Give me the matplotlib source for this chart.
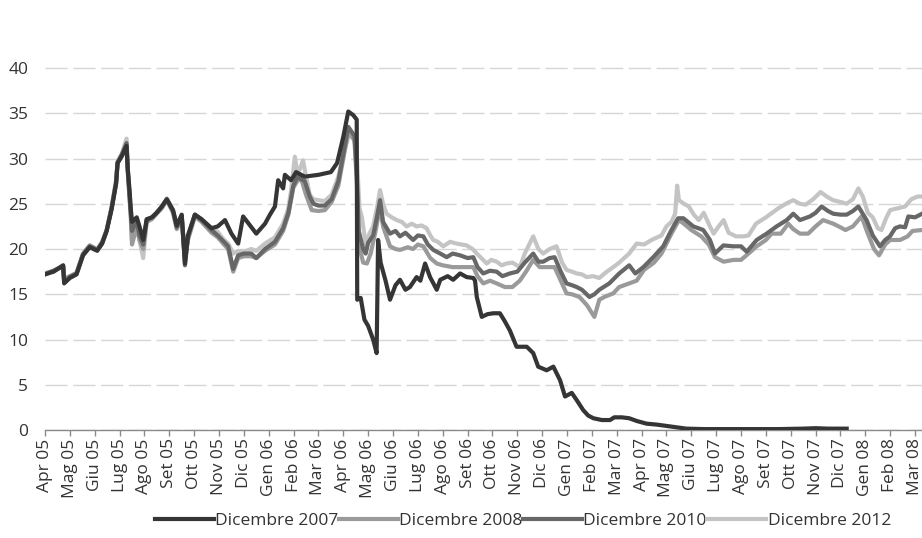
import matplotlib
matplotlib.use("Agg")
import matplotlib.pyplot as plt

plt.rcParams['font.family'] = ['Open Sans', 'DejaVu Sans']

tick_labels = ["Apr 05", "Mag 05", "Giu 05", "Lug 05", "Ago 05", "Set 05", "Ott 05", "Nov 05",
               "Dic 05", "Gen 06", "Feb 06", "Mar 06", "Apr 06", "Mag 06", "Giu 06", "Lug 06",
               "Ago 06", "Set 06", "Ott 06", "Nov 06", "Dic 06", "Gen 07", "Feb 07", "Mar 07",
               "Apr 07", "Mag 07", "Giu 07", "Lug 07", "Ago 07", "Set 07", "Ott 07", "Nov 07",
               "Dic 07", "Gen 08", "Feb 08", "Mar 08"]
y_ticks = [0, 5, 10, 15, 20, 25, 30, 35, 40]
series_names = ["Dicembre 2007", "Dicembre 2008", "Dicembre 2010", "Dicembre 2012"]

# (month index since Apr 05, value)
pts_2007 = [
    (0, 17.2), (0.35, 17.5), (0.73, 18.2), (0.77, 16.2), (1.0, 16.8), (1.27, 17.2), (1.53, 19.3),
    (1.8, 20.2), (2.1, 19.8), (2.3, 20.6), (2.48, 22.0), (2.68, 24.4), (2.86, 27.2), (2.92, 29.5),
    (3.1, 30.3), (3.28, 31.4), (3.33, 28.8), (3.4, 26.5), (3.45, 24.5), (3.5, 23.0), (3.69, 23.5),
    (3.8, 22.5), (3.95, 21.0), (4.09, 23.3), (4.3, 23.5), (4.49, 24.0), (4.7, 24.7), (4.9, 25.5),
    (5.15, 24.3), (5.3, 22.6), (5.5, 23.8), (5.63, 18.4), (5.75, 21.5), (6.03, 23.8), (6.3, 23.3),
    (6.7, 22.3), (6.95, 22.5), (7.24, 23.2), (7.5, 21.7), (7.77, 20.6), (7.97, 23.6), (8.25, 22.6),
    (8.5, 21.7), (8.85, 22.8), (9.05, 23.8), (9.25, 24.7), (9.38, 27.6), (9.58, 26.7), (9.65, 28.2),
    (9.9, 27.6), (10.1, 28.5), (10.45, 28.0), (11.0, 28.2), (11.5, 28.5), (11.75, 29.5), (12.0, 32.4),
    (12.2, 35.2), (12.4, 34.8), (12.54, 34.3), (12.56, 14.4), (12.7, 14.6), (12.85, 12.2), (13.0, 11.5),
    (13.2, 10.0), (13.34, 8.5), (13.4, 21.0), (13.5, 18.5), (13.7, 16.5), (13.88, 14.4), (14.1, 16.0),
    (14.28, 16.6), (14.5, 15.5), (14.68, 15.8), (14.95, 16.9), (15.1, 16.5), (15.29, 18.4), (15.49, 16.9),
    (15.76, 15.5), (15.9, 16.6), (16.2, 17.0), (16.42, 16.6), (16.7, 17.3), (16.96, 16.9), (17.23, 16.8),
    (17.3, 16.5), (17.37, 14.7), (17.57, 12.5), (17.8, 12.8), (18.03, 12.9), (18.3, 12.9), (18.5, 12.0),
    (18.7, 11.0), (18.97, 9.2), (19.38, 9.2), (19.64, 8.5), (19.84, 7.0), (20.18, 6.6), (20.45, 7.0),
    (20.72, 5.5), (20.92, 3.7), (21.19, 4.1), (21.39, 3.3), (21.65, 2.2), (21.85, 1.6), (22.06, 1.3),
    (22.4, 1.1), (22.73, 1.1), (22.9, 1.4), (23.2, 1.4), (23.5, 1.3), (23.8, 1.0), (24.2, 0.7),
    (24.6, 0.6), (25.0, 0.45), (25.4, 0.3), (25.8, 0.15), (26.5, 0.1), (27.5, 0.1), (28.5, 0.1),
    (29.5, 0.1), (30.5, 0.15), (31.0, 0.2), (31.5, 0.15), (32.25, 0.15),
]

pts_2008 = [
    (0, 17.3), (0.35, 17.6), (0.73, 18.1), (0.77, 16.6), (1.0, 17.0), (1.27, 17.3), (1.53, 19.5),
    (1.8, 20.4), (2.1, 19.9), (2.3, 20.8), (2.48, 22.1), (2.68, 24.6), (2.86, 27.5), (2.92, 29.6),
    (3.1, 30.4), (3.28, 31.5), (3.33, 28.5), (3.4, 25.5), (3.45, 23.5), (3.5, 20.5), (3.69, 22.5),
    (3.8, 21.0), (3.95, 20.0), (4.09, 23.0), (4.3, 23.3), (4.49, 23.9), (4.7, 24.5), (4.9, 25.4),
    (5.15, 24.0), (5.3, 22.2), (5.5, 23.4), (5.63, 18.8), (5.75, 21.0), (6.03, 23.6), (6.3, 23.0),
    (6.7, 21.8), (6.95, 21.3), (7.2, 20.5), (7.37, 20.0), (7.57, 17.5), (7.77, 19.0), (8.0, 19.2),
    (8.3, 19.2), (8.5, 19.0), (8.85, 19.8), (9.25, 20.5), (9.58, 22.0), (9.79, 23.8), (9.99, 26.8),
    (10.15, 27.5), (10.3, 27.8), (10.5, 26.0), (10.73, 24.3), (11.0, 24.2), (11.26, 24.3), (11.53, 25.2),
    (11.8, 27.0), (12.0, 30.0), (12.2, 33.0), (12.45, 32.0), (12.55, 27.0), (12.62, 20.5), (12.8, 18.5),
    (12.95, 18.4), (13.1, 19.5), (13.3, 22.0), (13.48, 24.7), (13.6, 22.5), (13.88, 20.3), (14.1, 20.0),
    (14.28, 19.9), (14.6, 20.2), (14.8, 20.0), (15.0, 20.5), (15.22, 20.3), (15.5, 19.0), (15.76, 18.4),
    (16.0, 18.2), (16.4, 18.0), (16.7, 18.0), (17.0, 18.0), (17.23, 18.0), (17.4, 17.0), (17.63, 16.2),
    (17.9, 16.5), (18.17, 16.2), (18.5, 15.8), (18.8, 15.8), (19.1, 16.5), (19.35, 17.5), (19.64, 18.8),
    (19.9, 18.0), (20.1, 18.0), (20.5, 18.0), (20.75, 16.5), (20.98, 15.1), (21.2, 15.0), (21.5, 14.7),
    (21.8, 13.8), (22.1, 12.5), (22.3, 14.4), (22.5, 14.7), (22.86, 15.1), (23.1, 15.8), (23.5, 16.2),
    (23.8, 16.5), (24.1, 17.7), (24.5, 18.5), (24.8, 19.5), (25.2, 21.7), (25.5, 23.2), (25.7, 22.8),
    (26.0, 22.1), (26.4, 21.4), (26.7, 20.5), (26.95, 19.1), (27.3, 18.6), (27.7, 18.8), (28.0, 18.8),
    (28.3, 19.5), (28.63, 20.3), (29.0, 21.0), (29.23, 21.7), (29.6, 21.7), (29.9, 22.8), (30.1, 22.2),
    (30.37, 21.7), (30.7, 21.7), (31.0, 22.5), (31.3, 23.2), (31.71, 22.8), (32.0, 22.4), (32.2, 22.1),
    (32.5, 22.5), (32.85, 23.6), (33.1, 21.7), (33.35, 20.0), (33.55, 19.3), (33.8, 20.5), (34.0, 21.0),
    (34.4, 21.0), (34.7, 21.4), (34.9, 22.0), (35.28, 22.1),
]

pts_2010 = [
    (0, 17.2), (0.35, 17.6), (0.73, 18.1), (0.77, 16.4), (1.0, 16.9), (1.27, 17.3), (1.53, 19.4),
    (1.8, 20.3), (2.1, 19.9), (2.3, 20.7), (2.48, 22.0), (2.68, 24.5), (2.86, 27.3), (2.92, 29.5),
    (3.1, 30.5), (3.28, 31.7), (3.33, 28.7), (3.4, 26.0), (3.45, 24.0), (3.5, 22.0), (3.69, 23.2),
    (3.8, 21.5), (3.95, 20.5), (4.09, 23.2), (4.3, 23.5), (4.49, 24.0), (4.7, 24.7), (4.9, 25.5),
    (5.15, 24.2), (5.3, 22.4), (5.5, 23.7), (5.63, 18.2), (5.75, 21.3), (6.03, 23.8), (6.3, 23.2),
    (6.7, 22.1), (6.95, 21.5), (7.2, 20.8), (7.37, 20.3), (7.57, 17.8), (7.77, 19.3), (8.0, 19.5),
    (8.3, 19.5), (8.5, 19.0), (8.85, 20.0), (9.25, 20.8), (9.58, 22.3), (9.79, 24.0), (9.99, 27.0),
    (10.15, 28.0), (10.25, 27.8), (10.45, 27.5), (10.65, 25.8), (10.8, 25.0), (11.0, 24.8), (11.26, 24.8),
    (11.53, 25.5), (11.8, 27.5), (12.0, 30.5), (12.2, 33.5), (12.45, 32.5), (12.55, 28.0), (12.62, 22.0),
    (12.8, 20.0), (12.9, 19.5), (13.0, 20.7), (13.2, 21.5), (13.35, 23.5), (13.48, 25.4), (13.6, 23.0),
    (13.88, 21.7), (14.1, 22.0), (14.28, 21.4), (14.5, 21.8), (14.81, 21.0), (15.0, 21.5), (15.22, 21.4),
    (15.4, 20.5), (15.62, 19.9), (15.9, 19.5), (16.16, 19.1), (16.4, 19.5), (16.7, 19.3), (17.0, 19.0),
    (17.23, 19.1), (17.4, 18.0), (17.63, 17.3), (17.9, 17.6), (18.17, 17.5), (18.4, 17.0), (18.7, 17.3),
    (19.0, 17.5), (19.3, 18.5), (19.64, 19.5), (19.85, 18.6), (20.04, 18.6), (20.3, 19.0), (20.5, 19.1),
    (20.75, 17.5), (20.98, 16.2), (21.2, 16.0), (21.39, 15.8), (21.6, 15.5), (21.9, 14.7), (22.1, 15.0),
    (22.3, 15.5), (22.7, 16.2), (23.1, 17.3), (23.5, 18.2), (23.75, 17.3), (24.07, 18.0), (24.47, 19.1),
    (24.87, 20.3), (25.2, 22.1), (25.47, 23.4), (25.68, 23.4), (26.08, 22.5), (26.48, 22.1), (26.75, 21.0),
    (26.95, 19.5), (27.29, 20.4), (27.69, 20.3), (28.0, 20.3), (28.23, 19.7), (28.63, 21.0), (29.03, 21.7),
    (29.43, 22.5), (29.84, 23.2), (30.1, 23.9), (30.37, 23.2), (30.77, 23.6), (31.0, 24.0), (31.24, 24.7),
    (31.5, 24.2), (31.71, 23.9), (32.0, 23.8), (32.25, 23.8), (32.5, 24.2), (32.72, 24.7), (33.05, 23.2),
    (33.3, 21.5), (33.59, 20.3), (33.8, 21.0), (33.99, 21.4), (34.2, 22.3), (34.39, 22.5), (34.6, 22.4),
    (34.73, 23.6), (35.0, 23.5), (35.28, 23.9),
]

pts_2012 = [
    (0, 17.3), (0.35, 17.6), (0.73, 18.2), (0.77, 16.8), (1.0, 17.0), (1.27, 17.4), (1.53, 19.5),
    (1.8, 20.4), (2.1, 20.0), (2.3, 20.8), (2.48, 22.1), (2.68, 24.7), (2.86, 27.6), (2.92, 29.7),
    (3.1, 30.6), (3.28, 32.2), (3.33, 29.0), (3.4, 26.2), (3.45, 24.3), (3.5, 21.0), (3.69, 22.8),
    (3.8, 21.0), (3.95, 19.0), (4.09, 23.0), (4.3, 23.4), (4.49, 24.0), (4.7, 24.6), (4.9, 25.6),
    (5.15, 24.3), (5.3, 22.6), (5.5, 23.5), (5.63, 19.5), (5.75, 21.5), (6.03, 23.8), (6.3, 23.2),
    (6.7, 22.3), (6.95, 21.9), (7.2, 21.0), (7.37, 20.6), (7.57, 19.5), (7.77, 19.8), (8.0, 19.7),
    (8.3, 20.0), (8.5, 19.8), (8.85, 20.6), (9.25, 21.3), (9.58, 22.8), (9.79, 24.5), (9.9, 26.5),
    (10.05, 30.2), (10.15, 28.5), (10.25, 28.8), (10.38, 29.8), (10.5, 28.0), (10.65, 26.0), (10.8, 25.5),
    (11.0, 25.4), (11.26, 25.3), (11.53, 26.0), (11.8, 28.0), (12.0, 30.5), (12.25, 32.8), (12.45, 32.0),
    (12.55, 30.0), (12.65, 24.5), (12.75, 23.5), (12.9, 20.5), (13.05, 21.7), (13.2, 22.5), (13.35, 24.5),
    (13.48, 26.5), (13.6, 25.0), (13.74, 23.9), (13.95, 23.5), (14.15, 23.2), (14.35, 23.0), (14.55, 22.5),
    (14.75, 22.8), (14.95, 22.5), (15.15, 22.6), (15.35, 22.3), (15.5, 21.5), (15.62, 21.0), (15.8, 20.8),
    (16.02, 20.3), (16.3, 20.8), (16.56, 20.6), (16.75, 20.5), (16.96, 20.4), (17.2, 20.0), (17.37, 19.5),
    (17.55, 19.0), (17.77, 18.4), (17.95, 18.8), (18.17, 18.6), (18.37, 18.2), (18.57, 18.4), (18.8, 18.5),
    (19.1, 18.0), (19.3, 19.5), (19.64, 21.4), (19.85, 20.0), (20.04, 19.5), (20.3, 20.0), (20.58, 20.3),
    (20.8, 18.5), (20.98, 17.7), (21.2, 17.5), (21.39, 17.3), (21.6, 17.2), (21.79, 16.9), (22.05, 17.0),
    (22.3, 16.8), (22.6, 17.5), (22.86, 18.0), (23.1, 18.5), (23.5, 19.5), (23.8, 20.6), (24.1, 20.5),
    (24.4, 21.0), (24.8, 21.5), (25.0, 22.5), (25.2, 23.0), (25.35, 23.9), (25.43, 27.0), (25.5, 25.4),
    (25.7, 25.0), (25.9, 24.7), (26.1, 23.8), (26.3, 23.2), (26.5, 24.0), (26.75, 22.5), (26.9, 21.7),
    (27.1, 22.5), (27.3, 23.2), (27.5, 21.8), (27.8, 21.4), (28.1, 21.4), (28.3, 21.5), (28.6, 22.8),
    (29.0, 23.5), (29.2, 23.9), (29.5, 24.5), (29.8, 25.0), (30.1, 25.4), (30.37, 25.0), (30.6, 24.9),
    (30.9, 25.5), (31.2, 26.3), (31.45, 25.8), (31.7, 25.4), (32.0, 25.2), (32.25, 25.0), (32.5, 25.5),
    (32.72, 26.7), (32.9, 25.8), (33.1, 24.0), (33.3, 23.5), (33.5, 22.3), (33.65, 22.1), (33.85, 23.5),
    (34.0, 24.3), (34.3, 24.5), (34.6, 24.7), (34.85, 25.5), (35.1, 25.8), (35.28, 25.8),
]

W, H = 922, 538
fig = plt.figure(figsize=(W / 100, H / 100), dpi=100)
ax = fig.add_axes([45 / W, 108 / H, (W - 45) / W, (430 - 59) / H])
ax.set_xlim(0, 35.28)
ax.set_ylim(0, 41)

colors = {"Dicembre 2007": "#353535", "Dicembre 2008": "#9a9a9a",
          "Dicembre 2010": "#676767", "Dicembre 2012": "#c4c4c4"}
data = {"Dicembre 2007": pts_2007, "Dicembre 2008": pts_2008,
        "Dicembre 2010": pts_2010, "Dicembre 2012": pts_2012}
zorders = {"Dicembre 2007": 6, "Dicembre 2008": 4, "Dicembre 2010": 5, "Dicembre 2012": 3}

handles = []
for name in series_names:
    t, v = zip(*data[name])
    ln, = ax.plot(t, v, color=colors[name], lw=3.0, solid_joinstyle="round",
                  zorder=zorders[name], label=name)
    handles.append(ln)

ax.set_yticks(y_ticks)
ax.set_yticklabels([str(y) for y in y_ticks])
ax.set_xticks(range(len(tick_labels)))
ax.set_xticklabels(tick_labels, rotation=90)
ax.grid(axis="y", color="#d6d6d6", lw=1.0, ls=(0, (16, 4)))
ax.set_axisbelow(True)

for s in ("left", "right", "top"):
    ax.spines[s].set_visible(False)
ax.spines["bottom"].set_color("#8a8a8a")
ax.spines["bottom"].set_linewidth(1.0)

ax.tick_params(axis="y", length=0, pad=12, labelsize=12.5, labelcolor="#333333")
ax.tick_params(axis="x", direction="out", length=4, width=1, color="#8a8a8a",
               pad=2, labelsize=12.5, labelcolor="#333333")

fig.legend(handles=handles, labels=series_names, loc="center",
           bbox_to_anchor=(0.567, 0.031), ncol=4, frameon=False,
           handlelength=3.4, handletextpad=0.1, columnspacing=0.0,
           fontsize=12.5, labelcolor="#333333")

fig.savefig("out.png", dpi=100)
